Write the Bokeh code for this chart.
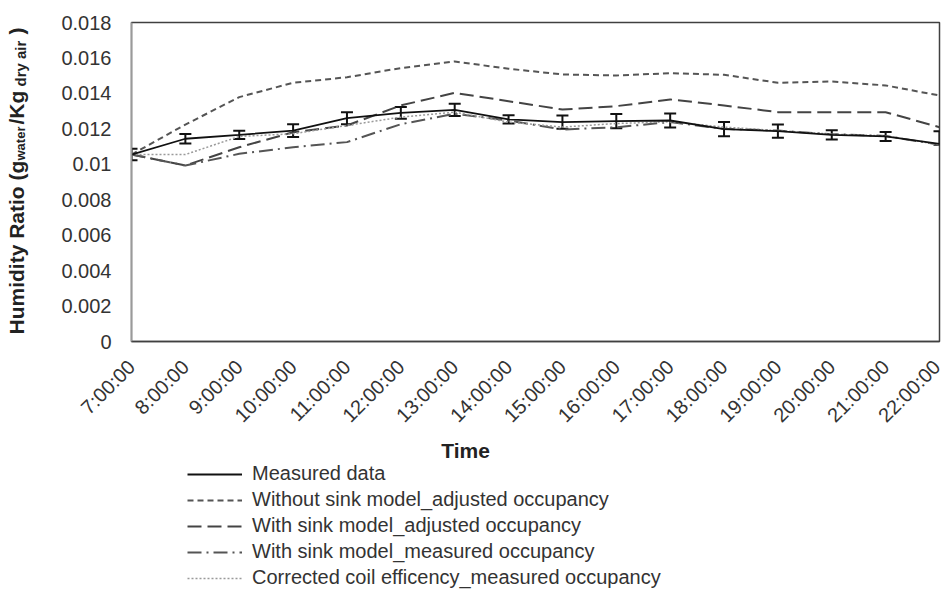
import math

from bokeh.core.properties import value
from bokeh.embed import file_html
from bokeh.layouts import column, row
from bokeh.models import (ColumnDataSource, FixedTicker, Legend, LegendItem,
                          Range1d, TeeHead, Whisker)
from bokeh.plotting import figure
from bokeh.resources import INLINE

# Hourly humidity ratio, measured vs. simulated
times = ["7:00:00", "8:00:00", "9:00:00", "10:00:00", "11:00:00", "12:00:00",
         "13:00:00", "14:00:00", "15:00:00", "16:00:00", "17:00:00", "18:00:00",
         "19:00:00", "20:00:00", "21:00:00", "22:00:00"]

measured = [0.01055, 0.01144, 0.01166, 0.0119, 0.0126, 0.0129, 0.01307, 0.01253,
            0.01238, 0.01243, 0.01247, 0.01198, 0.01187, 0.01166, 0.01157, 0.01115]
measured_err_minus = [0.00032, 0.00027, 0.00023, 0.00036, 0.00034, 0.00033, 0.00035, 0.00023,
                      0.00037, 0.0004, 0.0004, 0.0004, 0.00038, 0.00026, 0.00025, 0.00005]
measured_err_plus = [0.00032, 0.00027, 0.00023, 0.00036, 0.00034, 0.00033, 0.00035, 0.00023,
                     0.00037, 0.0004, 0.0004, 0.0004, 0.00038, 0.00026, 0.00025, 0.00072]

without_sink_adjusted = [0.01055, 0.01224, 0.01379, 0.0146, 0.01491, 0.01543, 0.0158, 0.01539,
                         0.01507, 0.01501, 0.01514, 0.01505, 0.0146, 0.01467, 0.01445, 0.01388]
with_sink_adjusted = [0.01055, 0.00993, 0.01096, 0.01181, 0.01219, 0.01332, 0.01403, 0.01356,
                      0.01309, 0.01328, 0.01366, 0.01332, 0.01294, 0.01294, 0.01294, 0.01209]
with_sink_measured = [0.01055, 0.00993, 0.01059, 0.01096, 0.01125, 0.01226, 0.01285, 0.01247,
                      0.01196, 0.01209, 0.01238, 0.0120, 0.0119, 0.0117, 0.0116, 0.0111]
corrected_coil = [0.01055, 0.01055, 0.01157, 0.01172, 0.01219, 0.01266, 0.01294, 0.01238,
                  0.0121, 0.0123, 0.0124, 0.0121, 0.0119, 0.0117, 0.0116, 0.0111]

series_labels = ["Measured data",
                 "Without sink model_adjusted occupancy",
                 "With sink model_adjusted occupancy",
                 "With sink model_measured occupancy",
                 "Corrected coil efficency_measured occupancy"]

yticks = [0, 0.002, 0.004, 0.006, 0.008, 0.01, 0.012, 0.014, 0.016, 0.018]
ytick_labels = ["0", "0.002", "0.004", "0.006", "0.008", "0.01", "0.012", "0.014", "0.016", "0.018"]

# y-axis title pieces (main text and subscripts)
ytitle_text = ["Humidity Ratio (g", "water", "/Kg", "dry air", ")"]
ytitle_size = ["21px", "13px", "21px", "15px", "21px"]

FONT = "Liberation Sans"
TEXT = "#333333"
TITLE = "#222222"

# line styles shared by the chart and the legend
STYLES = [
    dict(line_color="#111111", line_width=1.8),
    dict(line_color="#555555", line_width=2, line_dash="6 4"),
    dict(line_color="#444444", line_width=2, line_dash="14 6"),
    dict(line_color="#555555", line_width=2, line_dash="14 5 2 5"),
    dict(line_color="#9a9a9a", line_width=1.5, line_dash="2 2"),
]

W, H = 944, 605
TOP_H = 438          # chart row height (frame + tick labels)
STRIP_W = 40         # strip holding the rotated y-axis title
FRAME_TOP, FRAME_BOTTOM = 22, 341


def bare(fig):
    fig.axis.visible = False
    fig.grid.visible = False
    fig.outline_line_color = None
    fig.background_fill_color = "white"
    fig.border_fill_color = "white"


# ---- rotated y-axis title (its frame lines up with the chart frame) ----
strip = figure(width=STRIP_W, height=TOP_H, output_backend="svg", toolbar_location=None,
               x_range=Range1d(0, STRIP_W), y_range=Range1d(0, FRAME_BOTTOM - FRAME_TOP),
               min_border_left=0, min_border_right=0, min_border_top=0, min_border_bottom=0)
bare(strip)
title_src = ColumnDataSource(dict(
    x=[16, 20, 16, 20, 16],
    y=[FRAME_BOTTOM - c for c in (334, 160, 124, 86, 34)],
    text=ytitle_text,
    size=ytitle_size,
))
strip.text(x="x", y="y", text="text", source=title_src, angle=math.pi / 2,
           text_font=value(FONT), text_font_size="size", text_font_style="bold",
           text_color=TITLE, text_align="left", text_baseline="alphabetic")

# ---- main chart ----
x = list(range(len(times)))
src = ColumnDataSource(dict(
    x=x,
    measured=measured,
    lower=[m - e for m, e in zip(measured, measured_err_minus)],
    upper=[m + e for m, e in zip(measured, measured_err_plus)],
    wo_adj=without_sink_adjusted,
    w_adj=with_sink_adjusted,
    w_meas=with_sink_measured,
    coil=corrected_coil,
))

p = figure(width=W - STRIP_W, height=TOP_H, output_backend="svg", toolbar_location=None,
           x_range=Range1d(0, len(times) - 1), y_range=Range1d(yticks[0], yticks[-1]),
           min_border_left=91, min_border_right=5, min_border_top=FRAME_TOP,
           min_border_bottom=TOP_H - FRAME_BOTTOM)
p.background_fill_color = "white"
p.border_fill_color = "white"
p.grid.visible = False
p.outline_line_color = "#404040"
p.outline_line_width = 1.5

cols = ["measured", "wo_adj", "w_adj", "w_meas", "coil"]
for col, st in list(zip(cols, STYLES))[1:]:
    p.line("x", col, source=src, **st)
p.line("x", "measured", source=src, **STYLES[0])

whisk = Whisker(base="x", lower="lower", upper="upper", source=src,
                line_color="#111111", line_width=2,
                upper_head=TeeHead(size=12, line_color="#111111", line_width=2),
                lower_head=TeeHead(size=12, line_color="#111111", line_width=2))
p.add_layout(whisk)

p.xaxis.ticker = FixedTicker(ticks=x)
p.xaxis.major_label_overrides = {i: t for i, t in enumerate(times)}
p.xaxis.major_label_orientation = math.pi / 4
p.yaxis.ticker = FixedTicker(ticks=yticks)
p.yaxis.major_label_overrides = {v: s for v, s in zip(yticks, ytick_labels)}
for ax in (p.xaxis, p.yaxis):
    ax.major_tick_line_color = None
    ax.minor_tick_line_color = None
    ax.major_label_text_font = FONT
    ax.major_label_text_font_size = "20px"
    ax.major_label_text_color = TEXT
    ax.axis_line_width = 1.5
p.xaxis.axis_line_color = "#404040"
p.yaxis.axis_line_color = "#9a9a9a"
p.xaxis.major_label_standoff = 16
p.yaxis.major_label_standoff = 14

# ---- x-axis title and legend ----
BOT_H = H - TOP_H
bottom = figure(width=W, height=BOT_H, output_backend="svg", toolbar_location=None,
                x_range=Range1d(0, W), y_range=Range1d(0, BOT_H),
                min_border_left=0, min_border_right=0, min_border_top=0, min_border_bottom=0)
bare(bottom)
bottom.text(x=[465], y=[H - 450], text=["Time"], text_font=value(FONT),
            text_font_size="21px", text_font_style="bold", text_color=TITLE,
            text_align="center", text_baseline="alphabetic")

# legend keys: styled lines parked outside the visible range
key_renderers = [bottom.line(x=[-20, -10], y=[-20, -20], **st) for st in STYLES]
legend = Legend(items=[LegendItem(label=lbl, renderers=[r])
                       for lbl, r in zip(series_labels, key_renderers)],
                location=(187, 16), orientation="vertical",
                border_line_color=None, background_fill_alpha=0,
                padding=0, margin=0, glyph_width=55, glyph_height=20,
                label_height=20, spacing=3, label_standoff=10,
                label_text_font=FONT, label_text_font_size="20px", label_text_color=TEXT)
bottom.add_layout(legend)

layout = column(row(strip, p, spacing=0), bottom, spacing=0)
open("out.html", "w").write(file_html(layout, INLINE))
